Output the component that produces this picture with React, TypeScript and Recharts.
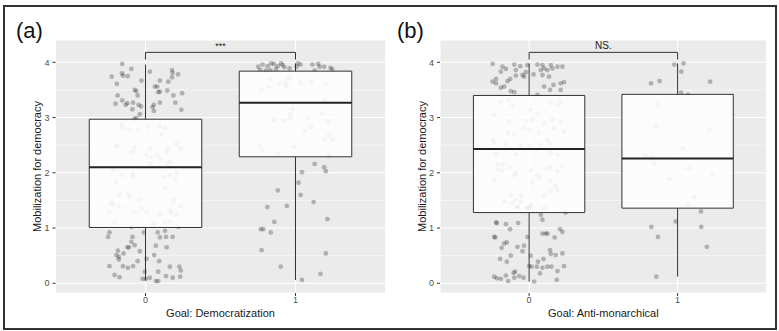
import { ScatterChart, Scatter, XAxis, YAxis, CartesianGrid, ReferenceLine, ReferenceArea, ReferenceDot, Label } from "recharts";

type Pt = [number, number]; // [jitter offset, value]

const categories = [0, 1];
const yTicks = [0, 1, 2, 3, 4];
const minorTicks = [0.5, 1.5, 2.5, 3.5];

// panel (a) Goal: Democratization = 0
const democ0: Pt[] = [
  [-0.155, 3.97], [-0.094, 3.88], [-0.225, 3.74], [-0.157, 3.8], [-0.15, 3.76], [-0.119, 3.75], [0.029, 3.83], [-0.027, 3.67],
  [-0.191, 3.61], [0.063, 3.56], [0.078, 3.56], [0.096, 3.67], [0.152, 3.65], [0.177, 3.86], [0.181, 3.81], [0.217, 3.78],
  [0.177, 3.73], [-0.072, 3.5], [-0.061, 3.48], [0.085, 3.46], [0.096, 3.47], [0.145, 3.49], [-0.186, 3.4], [-0.052, 3.4],
  [0.186, 3.4], [0.244, 3.44], [-0.155, 3.31], [-0.2, 3.25], [-0.132, 3.23], [-0.121, 3.26], [-0.083, 3.27], [-0.047, 3.23],
  [-0.03, 3.2], [0.047, 3.19], [0.056, 3.23], [0.096, 3.27], [0.199, 3.27], [-0.087, 3.15], [0.056, 3.12], [0.239, 3.14],
  [-0.038, 3.06], [-0.061, 2.99], [-0.074, 2.97],
  [-0.161, 2.87], [-0.15, 2.81], [-0.106, 2.77], [-0.05, 2.79], [0.018, 2.83], [0.096, 2.85], [0.13, 2.81], [0.108, 2.7],
  [-0.184, 2.5], [-0.195, 2.47], [-0.072, 2.46], [-0.083, 2.38], [0.029, 2.44], [0.152, 2.44], [0.141, 2.38], [0.208, 2.53],
  [0.231, 2.44], [0.007, 2.32], [0.04, 2.29], [0.074, 2.32], [0.096, 2.26], [0.141, 2.17], [0.163, 2.2], [0.034, 2.17],
  [-0.218, 2.05], [-0.155, 1.96], [-0.083, 1.98], [-0.2, 1.84], [-0.083, 1.93], [0.118, 1.93], [0.163, 1.96], [0.208, 1.99],
  [0.197, 1.87], [0.13, 1.72], [-0.173, 1.6], [-0.117, 1.63], [-0.106, 1.57], [-0.043, 1.5], [-0.229, 1.46], [-0.218, 1.42],
  [-0.178, 1.39], [-0.027, 1.36], [-0.072, 1.3], [0.007, 1.28], [-0.24, 1.28], [0.096, 1.25], [0.163, 1.31], [0.175, 1.27],
  [0.208, 1.24], [0.235, 1.4], [0.186, 1.5], [-0.206, 1.1], [-0.094, 1.02], [0.051, 1.07], [0.13, 1.1], [0.163, 1.12], [0.219, 1.02],
  [-0.24, 0.92], [-0.249, 0.84], [-0.011, 0.92], [-0.087, 0.84], [0.081, 0.92], [0.096, 0.83], [0.13, 0.95], [0.137, 0.84],
  [0.181, 0.84], [-0.094, 0.75], [-0.072, 0.69], [-0.121, 0.65], [-0.11, 0.65], [-0.038, 0.58], [0.069, 0.68], [0.141, 0.65],
  [-0.184, 0.59], [-0.195, 0.51], [-0.178, 0.48], [-0.178, 0.43], [-0.146, 0.54], [0.007, 0.44], [0.091, 0.4], [0.058, 0.51],
  [-0.052, 0.4], [-0.24, 0.31], [-0.15, 0.31], [-0.117, 0.28], [-0.083, 0.31], [0.163, 0.3], [0.226, 0.3], [0.235, 0.23],
  [0.085, 0.21], [-0.005, 0.21], [-0.206, 0.15], [-0.173, 0.11], [0.137, 0.13], [0.181, 0.1], [0.231, 0.12], [-0.02, 0.08],
  [0.002, 0.08], [0.029, 0.1], [0.069, 0.04], [0.085, 0.04],
];

// panel (a) Goal: Democratization = 1
const democ1: Pt[] = [
  [-0.248, 3.92], [-0.219, 3.96], [-0.186, 3.93], [-0.163, 3.98], [-0.145, 3.97], [-0.118, 3.93], [-0.096, 3.98], [-0.085, 3.95],
  [-0.04, 3.89], [-0.197, 3.85], [-0.168, 3.86], [-0.13, 3.88], [0.016, 3.98], [0.034, 3.96], [0.007, 3.92], [0.112, 3.96],
  [0.151, 3.97], [0.161, 3.92], [0.191, 3.92], [0.233, 3.9], [0.245, 3.87], [0.128, 3.85], [-0.235, 3.86], [-0.074, 3.91],
  [-0.168, 3.69], [-0.108, 3.62], [-0.069, 3.63], [-0.047, 3.71], [0.034, 3.63], [0.106, 3.65], [0.206, 3.62], [-0.226, 3.49],
  [-0.175, 3.55], [-0.063, 3.57], [0.195, 3.32], [-0.017, 3.15], [-0.034, 3.06], [-0.145, 2.96], [-0.074, 2.94], [-0.04, 2.99],
  [0.087, 2.99], [0.173, 3.08], [0.218, 2.94], [0.106, 2.83], [0.061, 2.76], [0.249, 2.61], [0.195, 2.61], [0.222, 2.68],
  [-0.235, 2.48], [-0.219, 2.4], [-0.007, 2.47], [-0.118, 2.34], [0.222, 2.32],
  [0.128, 2.16], [0.191, 2.1], [0.202, 2.03], [0.043, 2.01], [0.02, 1.82], [-0.118, 1.68], [0.034, 1.6], [0.121, 1.47],
  [-0.058, 1.4], [-0.188, 1.38], [0.213, 1.16], [-0.141, 1.11], [-0.231, 0.98], [-0.215, 0.98], [-0.165, 0.92], [-0.226, 0.6],
  [0.202, 0.54], [-0.098, 0.3], [0.166, 0.17], [0.043, 0.06],
];

// panel (b) Goal: Anti-monarchical = 0
const anti0: Pt[] = [
  [-0.179, 3.92], [-0.156, 3.88], [-0.1, 3.96], [-0.089, 3.86], [-0.19, 3.83], [-0.022, 3.82], [-0.011, 3.95], [0.056, 3.96],
  [0.09, 3.95], [0.101, 3.89], [0.123, 3.86], [0.146, 3.95], [0.157, 3.89], [0.191, 3.92], [0.224, 3.92], [-0.223, 3.7],
  [-0.145, 3.66], [-0.127, 3.7], [-0.089, 3.76], [-0.044, 3.77], [-0.034, 3.74], [0.079, 3.86], [0.09, 3.77], [0.134, 3.74],
  [-0.223, 3.62], [-0.168, 3.56], [-0.19, 3.54], [-0.123, 3.48], [-0.1, 3.46], [0.101, 3.56], [0.141, 3.5], [0.164, 3.59],
  [0.213, 3.62], [0.235, 3.64], [0.056, 3.41], [-0.246, 3.65], [-0.245, 3.97], [0.213, 3.5], [0.03, 3.78], [-0.06, 3.93],
  [-0.19, 3.29], [-0.134, 3.32], [-0.111, 3.23], [-0.235, 3.05], [0.011, 3.14], [0.146, 3.26], [0.191, 3.23], [0.213, 3.29], [0.056, 3.08],
  [-0.134, 2.93], [-0.022, 2.94], [0.023, 2.96], [0.101, 2.9], [0.157, 2.96], [0.213, 2.93], [-0.034, 2.81], [0.0, 2.78],
  [0.067, 2.72], [0.168, 2.81], [0.235, 2.75], [-0.145, 2.72], [-0.1, 2.7], [-0.246, 2.6], [-0.235, 2.54], [-0.156, 2.51],
  [-0.056, 2.48], [0.0, 2.48], [0.079, 2.51], [0.123, 2.6], [0.134, 2.54], [-0.223, 2.33], [-0.089, 2.33], [0.146, 2.36],
  [0.191, 2.33], [-0.212, 2.15], [-0.179, 2.15], [-0.134, 2.1], [-0.212, 2.06], [-0.179, 2.04], [-0.089, 2.0], [-0.1, 1.95],
  [0.011, 2.04], [0.056, 1.97], [0.067, 1.91], [0.123, 2.09], [0.146, 2.1], [0.191, 2.03], [0.224, 2.12], [-0.235, 1.88],
  [0.023, 1.82], [0.146, 1.85], [0.179, 1.76], [0.191, 1.69], [0.146, 1.68], [-0.123, 1.6], [-0.056, 1.59], [0.101, 1.59],
  [-0.168, 1.48], [-0.111, 1.45], [-0.089, 1.51], [-0.056, 1.48], [-0.078, 1.38], [-0.011, 1.36], [0.011, 1.41], [0.101, 1.36],
  [-0.078, 1.39], [-0.011, 1.37], [0.011, 1.39], [0.079, 1.24], [0.09, 1.15], [0.246, 1.28], [-0.223, 1.1], [-0.217, 1.09],
  [-0.156, 1.07], [-0.128, 0.98], [-0.074, 1.09], [-0.235, 0.84], [-0.228, 0.83], [-0.011, 0.84], [0.09, 0.9], [0.112, 0.9],
  [0.123, 0.9], [0.172, 0.83], [0.208, 0.98], [0.224, 0.93], [-0.168, 0.72], [-0.15, 0.74], [-0.185, 0.64], [-0.078, 0.66],
  [-0.044, 0.58], [-0.034, 0.68], [0.141, 0.6], [0.146, 0.53], [0.179, 0.51], [0.224, 0.54], [-0.123, 0.5], [0.011, 0.5],
  [-0.195, 0.44], [-0.15, 0.39], [0.06, 0.39], [0.097, 0.44], [0.0, 0.31], [0.016, 0.3], [0.052, 0.3], [0.09, 0.28],
  [0.123, 0.3], [0.15, 0.3], [0.235, 0.31], [-0.094, 0.21], [-0.105, 0.19], [0.191, 0.22], [0.074, 0.18], [-0.235, 0.12],
  [-0.217, 0.09], [-0.19, 0.08], [-0.156, 0.14], [-0.1, 0.1], [-0.067, 0.13], [-0.038, 0.1], [-0.141, 0.04], [0.034, 0.03], [0.186, 0.06],
];

// panel (b) Goal: Anti-monarchical = 1
const anti1: Pt[] = [
  [-0.022, 3.96], [0.04, 3.98], [0.025, 3.83], [-0.179, 3.62], [-0.121, 3.66], [0.219, 3.65], [0.023, 3.45], [0.07, 3.41],
  [-0.138, 3.24], [-0.143, 2.85], [0.215, 2.78], [0.036, 2.44], [-0.217, 2.31], [-0.156, 2.17], [-0.172, 2.26], [0.074, 2.08],
  [0.235, 1.97], [-0.054, 1.89], [0.112, 1.56], [0.07, 1.42], [0.157, 1.3], [-0.013, 1.12], [-0.177, 1.02], [0.159, 1.02],
  [-0.132, 0.84], [0.197, 0.66], [-0.143, 0.12],
];

interface BoxStat { cat: number; lo: number; q1: number; med: number; q3: number; hi: number }

const democBoxes: BoxStat[] = [
  { cat: 0, lo: 0.05, q1: 1.01, med: 2.1, q3: 2.97, hi: 3.96 },
  { cat: 1, lo: 0.06, q1: 2.29, med: 3.27, q3: 3.84, hi: 3.98 },
];
const antiBoxes: BoxStat[] = [
  { cat: 0, lo: 0.03, q1: 1.28, med: 2.43, q3: 3.4, hi: 3.98 },
  { cat: 1, lo: 0.12, q1: 1.36, med: 2.26, q3: 3.42, hi: 3.98 },
];

const bracketY = 4.18;
const bracketTick = 4.05;
const halfBox = 0.375;

const toRows = (pts: Pt[], cat: number) => pts.map(([dx, y]) => ({ x: cat + dx, y }));

const dot = (p: any) => <circle cx={p.cx} cy={p.cy} r={2.4} fill="#000" fillOpacity={0.25} />;

const xTitle = (text: string) => (p: any) => {
  const vb = p.viewBox || { x: 0, y: 0, width: 0, height: 0 };
  return (
    <text x={vb.x + vb.width / 2} y={vb.y + 24} textAnchor="middle" fontSize={11} fill="#1a1a1a">
      {text}
    </text>
  );
};

const yTitle = (p: any) => {
  const vb = p.viewBox || { x: 0, y: 0, width: 0, height: 0 };
  const x = vb.x + vb.width - 18.5;
  const y = vb.y + vb.height / 2;
  return (
    <text x={x} y={y} transform={`rotate(-90, ${x}, ${y})`} textAnchor="middle" dominantBaseline="central" fontSize={11} fill="#1a1a1a">
      Mobilization for democracy
    </text>
  );
};

interface PanelProps {
  pts0: Pt[];
  pts1: Pt[];
  boxes: BoxStat[];
  sig: string;
  sigSize: number;
  title: string;
  width: number;
  yAxisWidth: number;
  right: number;
}

function Panel({ pts0, pts1, boxes, sig, sigSize, title, width, yAxisWidth, right }: PanelProps) {
  const data = [...toRows(pts0, 0), ...toRows(pts1, 1)];
  return (
    <ScatterChart width={width} height={331} margin={{ top: 40, right, bottom: 0, left: 0 }}>
      <CartesianGrid fill="#EBEBEB" stroke="#fff" strokeWidth={1.1} />
      {minorTicks.map((v) => (
        <ReferenceLine key={v} y={v} stroke="#fff" strokeWidth={0.55} />
      ))}
      <XAxis
        type="number"
        dataKey="x"
        domain={[-0.6, 1.6]}
        allowDataOverflow
        ticks={categories}
        interval={0}
        height={38}
        tickSize={3}
        tickMargin={1}
        axisLine={false}
        tickLine={{ stroke: "#333" }}
        tick={{ fill: "#4d4d4d", fontSize: 9 }}
      >
        <Label content={xTitle(title)} />
      </XAxis>
      <YAxis
        type="number"
        dataKey="y"
        domain={[-0.176, 4.404]}
        allowDataOverflow
        ticks={yTicks}
        interval={0}
        width={yAxisWidth}
        tickSize={3}
        tickMargin={3}
        axisLine={false}
        tickLine={{ stroke: "#333" }}
        tick={{ fill: "#4d4d4d", fontSize: 9 }}
      >
        <Label content={yTitle} />
      </YAxis>
      <Scatter data={data} shape={dot} isAnimationActive={false} />
      {boxes.map((b) => (
        <ReferenceArea
          key={`box${b.cat}`}
          x1={b.cat - halfBox}
          x2={b.cat + halfBox}
          y1={b.q1}
          y2={b.q3}
          fill="#fff"
          fillOpacity={0.86}
          stroke="#333"
          strokeWidth={1}
          zIndex={700}
        />
      ))}
      {boxes.map((b) => (
        <ReferenceLine
          key={`med${b.cat}`}
          segment={[{ x: b.cat - halfBox, y: b.med }, { x: b.cat + halfBox, y: b.med }]}
          stroke="#222"
          strokeWidth={2}
          zIndex={800}
        />
      ))}
      {boxes.map((b) => (
        <ReferenceLine
          key={`wlo${b.cat}`}
          segment={[{ x: b.cat, y: b.lo }, { x: b.cat, y: b.q1 }]}
          stroke="#333"
          strokeWidth={1}
          zIndex={800}
        />
      ))}
      {boxes.map((b) => (
        <ReferenceLine
          key={`whi${b.cat}`}
          segment={[{ x: b.cat, y: b.q3 }, { x: b.cat, y: b.hi }]}
          stroke="#333"
          strokeWidth={1}
          zIndex={800}
        />
      ))}
      <ReferenceLine segment={[{ x: 0, y: bracketY }, { x: 1, y: bracketY }]} stroke="#333" strokeWidth={1} zIndex={800} />
      <ReferenceLine segment={[{ x: 0, y: bracketTick }, { x: 0, y: bracketY }]} stroke="#333" strokeWidth={1} zIndex={800} />
      <ReferenceLine segment={[{ x: 1, y: bracketTick }, { x: 1, y: bracketY }]} stroke="#333" strokeWidth={1} zIndex={800} />
      <ReferenceDot
        x={0.5}
        y={bracketY}
        r={0}
        fill="none"
        stroke="none"
        zIndex={800}
        label={{ value: sig, position: "top", offset: 3, fontSize: sigSize, fill: "#1a1a1a" }}
      />
    </ScatterChart>
  );
}

export default function App() {
  return (
    <div
      style={{
        position: "absolute",
        left: 0,
        top: 0,
        width: 779,
        height: 331,
        background: "#fff",
        fontFamily: "'Liberation Sans', Arial, sans-serif",
        overflow: "hidden",
      }}
    >
      <div style={{ position: "absolute", left: 0, top: 0 }}>
        <Panel pts0={democ0} pts1={democ1} boxes={democBoxes} sig="***" sigSize={9} title="Goal: Democratization" width={390} yAxisWidth={55.5} right={4.5} />
      </div>
      <div style={{ position: "absolute", left: 390, top: 0 }}>
        <Panel pts0={anti0} pts1={anti1} boxes={antiBoxes} sig="NS." sigSize={10} title="Goal: Anti-monarchical" width={389} yAxisWidth={50} right={12.3} />
      </div>
      <div style={{ position: "absolute", left: 16, top: 20, fontSize: 22, lineHeight: "22px", color: "#111" }}>(a)</div>
      <div style={{ position: "absolute", left: 397, top: 20, fontSize: 22, lineHeight: "22px", color: "#111" }}>(b)</div>
      <div
        style={{
          position: "absolute",
          left: 3,
          top: 5,
          width: 770,
          height: 321,
          border: "2px solid #333",
          pointerEvents: "none",
        }}
      />
    </div>
  );
}
